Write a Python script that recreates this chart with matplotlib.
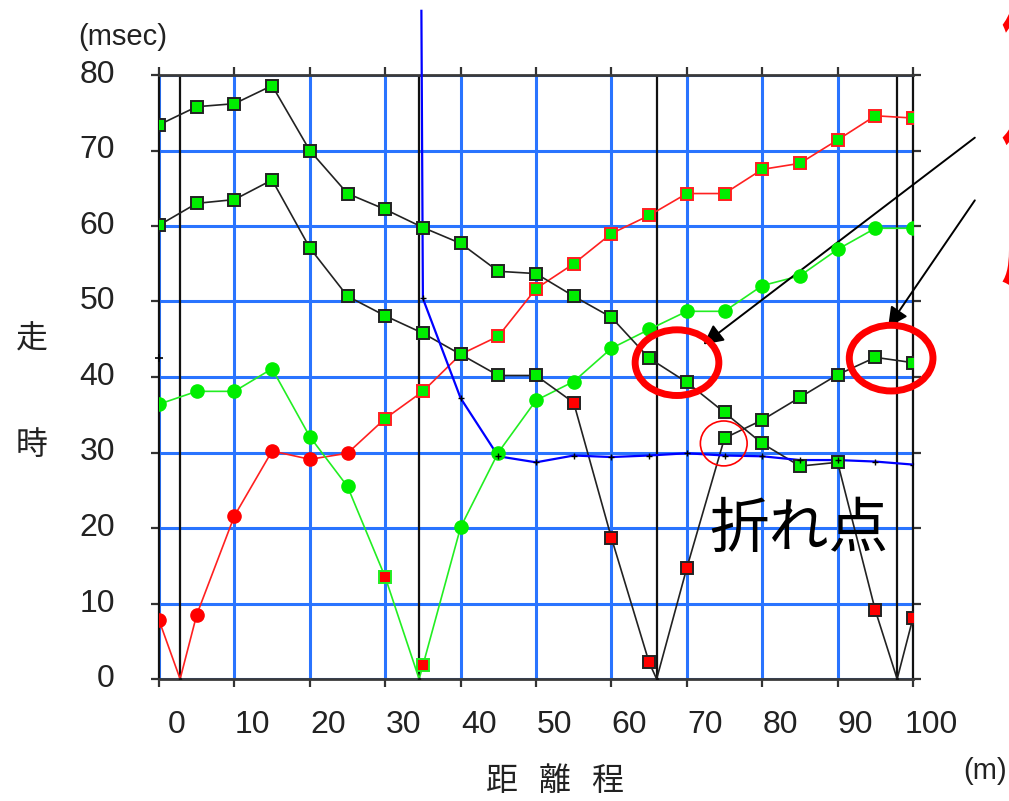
import matplotlib
matplotlib.use('Agg')
import matplotlib.pyplot as plt
from matplotlib.patches import Ellipse
from matplotlib.transforms import ScaledTranslation

# 受振点 (m) と起振点 (m)
geophones = list(range(0, 101, 5))
shots = [2.8, 34.5, 66.0, 97.9]

# 各起振点の初動走時 (msec)
t_shot1 = [7.8, 8.5, 21.6, 30.2, 29.1, 29.9, 34.5, 38.1, 43.0, 45.4, 51.7,
           55.0, 59.0, 61.4, 64.3, 64.3, 67.5, 68.3, 71.4, 74.6, 74.3]
t_shot2 = [36.4, 38.1, 38.1, 41.1, 32.1, 25.5, 13.5, 1.8, 20.1, 30.0, 36.9,
           39.4, 43.8, 46.3, 48.7, 48.7, 52.1, 53.4, 56.9, 59.7, 59.7]
t_shot3 = [60.1, 63.0, 63.5, 66.1, 57.1, 50.7, 48.1, 45.8, 43.0, 40.2, 40.2,
           36.6, 18.7, 2.2, 14.7, 31.9, 34.3, 37.3, 40.3, 42.6, 41.9]
t_shot4 = [73.4, 75.8, 76.2, 78.6, 70.0, 64.3, 62.2, 59.8, 57.7, 54.0, 53.7,
           50.7, 47.9, 42.5, 39.3, 35.3, 31.2, 28.2, 28.7, 9.1, 8.1]

# 直接波として読んだ点 (1 = 第1層)
layer1_shot1 = [1, 1, 1, 1, 1, 1, 0, 0, 0, 0, 0, 0, 0, 0, 0, 0, 0, 0, 0, 0, 0]
layer1_shot2 = [0, 0, 0, 0, 0, 0, 1, 1, 0, 0, 0, 0, 0, 0, 0, 0, 0, 0, 0, 0, 0]
layer1_shot3 = [0, 0, 0, 0, 0, 0, 0, 0, 0, 0, 0, 1, 1, 1, 1, 0, 0, 0, 0, 0, 0]
layer1_shot4 = [0, 0, 0, 0, 0, 0, 0, 0, 0, 0, 0, 0, 0, 0, 0, 0, 0, 0, 0, 1, 1]

# はぎとり線
x_strip = [34.8, 35.0, 40, 45, 50, 55, 60, 65, 70, 75, 80, 85, 90, 95, 100]
t_strip = [88.5, 50.4, 37.2, 29.5, 28.7, 29.6, 29.4, 29.6, 29.9, 29.6, 29.5,
           29.0, 29.0, 28.8, 28.4]
x_mark = [0]
t_mark = [42.5]

x_ticks = list(range(0, 101, 10))
y_ticks = list(range(0, 81, 10))

series = [
    (t_shot1, layer1_shot1, shots[0], '#ff2020'),
    (t_shot2, layer1_shot2, shots[1], '#22ee22'),
    (t_shot3, layer1_shot3, shots[2], '#222222'),
    (t_shot4, layer1_shot4, shots[3], '#222222'),
]

num_font = ['Liberation Sans', 'DejaVu Sans']
jp_font = ['Noto Sans CJK JP', 'DejaVu Sans']

fig = plt.figure(figsize=(10.09, 8.01), dpi=100)
ax = fig.add_axes([159 / 1009, 122 / 801, 754 / 1009, 604 / 801])
ax.set_xlim(0, 100)
ax.set_ylim(0, 80)
ax.set_xticks(x_ticks)
ax.set_yticks(y_ticks)
ax.grid(color='#2a74ff', lw=2.2)
ax.tick_params(direction='out', length=6, width=1.6, color='#333333',
               top=True, right=True, labelbottom=False, labelleft=False)
for side in ['top', 'bottom']:
    ax.spines[side].set_color('#3a3a3a')
    ax.spines[side].set_linewidth(2.0)
for side in ['left', 'right']:
    ax.spines[side].set_color('#111111')
    ax.spines[side].set_linewidth(1.6)

for s in shots:
    ax.axvline(s, color='#111111', lw=1.6, zorder=2)

for t, layer1, shot, col in series:
    xs = geophones + [shot]
    ts = t + [0.0]
    pts = sorted(zip(xs, ts))
    ax.plot([p[0] for p in pts], [p[1] for p in pts], color=col, lw=1.2, zorder=3)
    for x, v, d in zip(geophones, t, layer1):
        face = '#ff0000' if d else '#00ee00'
        if face == '#ff0000' and col == '#ff2020' or face == '#00ee00' and col == '#22ee22':
            ax.plot(x, v, 'o', ms=9.5, mfc=face, mec=face, zorder=4)
        else:
            ax.plot(x, v, 's', ms=8.5, mfc=face, mec=col, mew=1.4, zorder=4)
    ax.plot(shot, 0, '.', color='#111111', ms=3, zorder=4)

ax.plot(x_strip, t_strip, color='#0000ff', lw=1.6, zorder=3, clip_on=False)
ax.plot(x_strip[1:], t_strip[1:], '+', color='black', ms=5, mew=1.0, zorder=4)
ax.plot(x_mark, t_mark, '+', color='black', ms=6, mew=1.2, zorder=4, clip_on=False)

# 目盛りラベル
xoff = ax.get_xaxis_transform() + ScaledTranslation(0.18, -0.46, fig.dpi_scale_trans)
for x in x_ticks:
    ax.text(x, 0, str(x), transform=xoff, ha='center', va='center',
            fontsize=23, family=num_font, color='#222222')
yoff = ax.get_yaxis_transform() + ScaledTranslation(-0.44, 0, fig.dpi_scale_trans)
for y in y_ticks:
    ax.text(0, y, str(y), transform=yoff, ha='right', va='center',
            fontsize=23, family=num_font, color='#222222')

fig.text(123 / 1009, 1 - 37 / 801, '(msec)', ha='center', va='center',
         fontsize=21, family=num_font, color='#222222')
fig.text(1007 / 1009, 1 - 771 / 801, '(m)', ha='right', va='center',
         fontsize=21, family=num_font, color='#222222')
fig.text(32 / 1009, 1 - 340 / 801, '走', ha='center', va='center',
         fontsize=23, family=jp_font, color='#222222')
fig.text(32 / 1009, 1 - 445 / 801, '時', ha='center', va='center',
         fontsize=23, family=jp_font, color='#222222')
for cx, ch in zip([502, 555, 607], '距離程'):
    fig.text(cx / 1009, 1 - 781 / 801, ch, ha='center', va='center',
             fontsize=23, family=jp_font, color='#222222')

fig.text(799 / 1009, 1 - 530 / 801, '折れ点', ha='center', va='center',
         fontsize=43, family=jp_font, color='black')

# 右端の赤字注記 (図の外へはみ出す)
for cy, line in zip([35, 148, 262], ['傾きが', '低速度', '層']):
    fig.text(1001 / 1009, 1 - cy / 801, line, ha='left', va='center',
             fontsize=44, family=jp_font, fontweight='bold', color='#ff0000')

# 注目箇所
for cx, cy in [(68.7, 41.9), (97.1, 42.5)]:
    ax.add_patch(Ellipse((cx, cy), 11.1, 8.7, fill=False, ec='#ff0000',
                         lw=5, zorder=5, clip_on=False))
ax.add_patch(Ellipse((74.9, 31.2), 6.2, 5.95, fill=False, ec='#ff0000',
                     lw=1.2, zorder=5, clip_on=False))

for tip, tail in [((72.2, 44.3), (108.2, 71.7)), ((96.7, 46.6), (108.2, 63.4))]:
    ax.annotate('', xy=tip, xytext=tail, annotation_clip=False,
                arrowprops=dict(arrowstyle='-|>', mutation_scale=30, lw=1.4,
                                color='black', shrinkA=0, shrinkB=0))

fig.savefig('out.png', dpi=100)
